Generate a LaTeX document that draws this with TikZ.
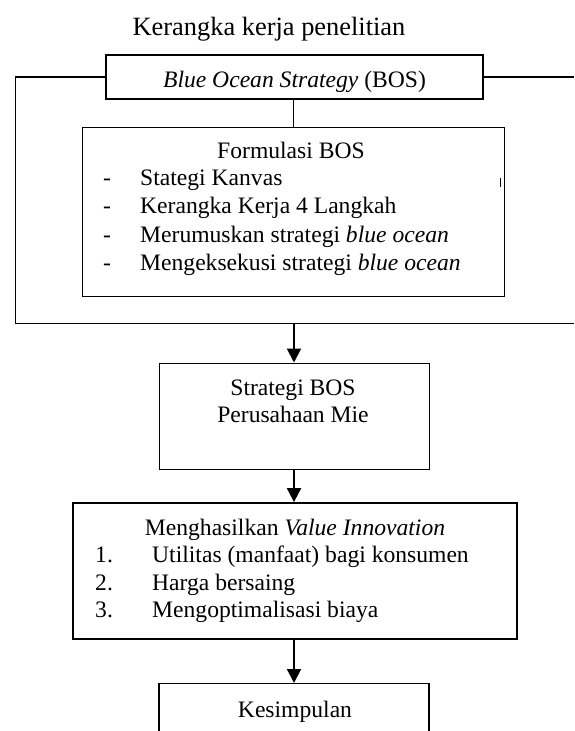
\documentclass[tikz,border=0pt]{standalone}
\usepackage{fontspec}
\setmainfont{Liberation Serif}
\usepackage{tikz}
\usetikzlibrary{arrows.meta}

\begin{document}
\begin{tikzpicture}[
    x=1pt, y=-1pt,
    >={Triangle[length=14pt, width=14pt]},
    % Styles for the components
    box/.style={rectangle, draw=black, line width=1pt, inner sep=0pt},
    bosbox/.style={box, line width=1.6pt},
    txt/.style={inner sep=0pt, anchor=base, font=\fontsize{23.6}{28}\selectfont},
    item/.style={txt, anchor=base west},
    link/.style={line width=1.5pt},
    flow/.style={->, line width=2pt}
]
    \useasboundingbox (0,0) rectangle (574,731);
    \clip (0,0) rectangle (574,731);

    % =========================================================================
    % 1. THE TITLE
    % =========================================================================
    \node[txt, font=\fontsize{26.4}{30}\selectfont] (title) at (269, 35.5) {Kerangka kerja penelitian};

    % =========================================================================
    % 2. BLUE OCEAN STRATEGY & ITS FRAME
    % =========================================================================
    \node[bosbox, minimum width=377pt, minimum height=44pt] (bos) at (294.5, 77) {};
    \node[txt] (bos_txt) at (294.5, 87) {\textit{Blue Ocean Strategy} (BOS)};

    % Frame around the formulation
    \coordinate (frame_l) at (15.7, 77);
    \coordinate (frame_r) at (574, 77);
    \coordinate (frame_bl) at (15.7, 323.5);
    \coordinate (frame_br) at (574, 323.5);
    \coordinate (frame_out) at (294, 323.5);
    \draw[link] (bos.west) -- (frame_l) -- (frame_bl) -- (frame_br);
    \draw[link] (bos.east) -- (frame_r);

    % =========================================================================
    % 3. FORMULASI BOS
    % =========================================================================
    \node[box, minimum width=421.3pt, minimum height=169pt] (formulasi) at (293.4, 211.5) {};
    \draw[link] (bos.south -| formulasi.north) -- (formulasi.north);
    \draw[line width=1pt] (500, 178) -- (500, 187);

    \node[txt] (formulasi_txt) at (291, 158) {Formulasi BOS};
    \foreach \y/\name/\label in {185/kanvas/{Stategi Kanvas},
                                 213/langkah/{Kerangka Kerja 4 Langkah},
                                 242/rumus/{Merumuskan strategi \textit{blue ocean}},
                                 270/eksekusi/{Mengeksekusi strategi \textit{blue ocean}}} {
        \node[item] (dash_\name) at (103, \y) {-};
        \node[item] (\name) at (140, \y) {\label};
    }

    % =========================================================================
    % 4. STRATEGI BOS PERUSAHAAN MIE
    % =========================================================================
    \node[box, minimum width=270pt, minimum height=106pt] (strategi) at (294, 416) {};
    \draw[flow] (frame_out) -- (strategi.north);
    \node[txt] (strategi_a) at (293, 395) {Strategi BOS};
    \node[txt] (strategi_b) at (293, 422) {Perusahaan Mie};

    % =========================================================================
    % 5. VALUE INNOVATION
    % =========================================================================
    \node[box, line width=1.8pt, minimum width=444pt, minimum height=136pt] (nilai) at (295, 571) {};
    \draw[flow] (strategi.south) -- (strategi.south |- nilai.north);
    \node[txt] (nilai_txt) at (295, 535) {Menghasilkan \textit{Value Innovation}};
    \foreach \y/\num/\label in {562/1/{Utilitas (manfaat) bagi konsumen},
                                590/2/{Harga bersaing},
                                617/3/{Mengoptimalisasi biaya}} {
        \node[item] (nomor_\num) at (95, \y) {\num.};
        \node[item] (nilai_\num) at (152, \y) {\label};
    }

    % =========================================================================
    % 6. KESIMPULAN
    % =========================================================================
    \node[box, line width=1.3pt, minimum width=270pt, minimum height=100pt, anchor=north] (kesimpulan) at (294, 683) {};
    \draw[flow] (strategi.south |- nilai.south) -- (kesimpulan.north);
    \node[txt] (kesimpulan_txt) at (295, 717) {Kesimpulan};

\end{tikzpicture}
\end{document}
